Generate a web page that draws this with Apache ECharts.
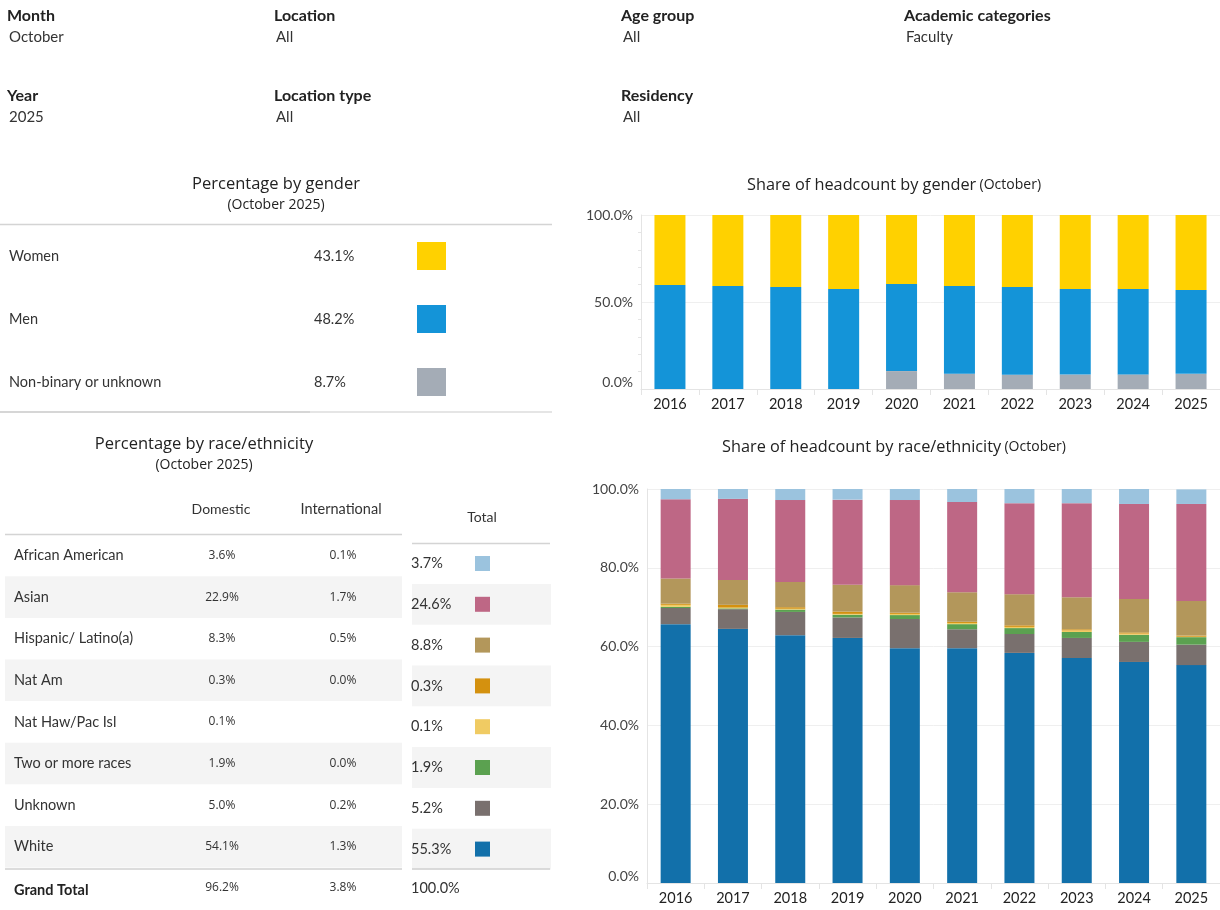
<!DOCTYPE html>
<html>
<head>
<meta charset="utf-8">
<script src="https://cdn.jsdelivr.net/npm/echarts@6/dist/echarts.min.js"></script>
<style>
html,body{margin:0;padding:0;background:#fff;}
#c{width:1220px;height:910px;}
</style>
</head>
<body>
<div id="c"></div>
<script>
// ---------------- DATA ----------------
const filterNames  = ['Month', 'Location', 'Age group', 'Academic categories', 'Year', 'Location type', 'Residency'];
const filterValues = ['October', 'All', 'All', 'Faculty', '2025', 'All', 'All'];

const years = ['2016','2017','2018','2019','2020','2021','2022','2023','2024','2025'];

const genderCats    = ['Women', 'Men', 'Non-binary or unknown'];
const genderPct2025 = ['43.1%', '48.2%', '8.7%'];
const genderWomen = [40.2, 40.8, 41.4, 42.5, 39.7, 40.8, 41.4, 42.5, 42.5, 43.1];
const genderMen   = [59.8, 59.2, 58.6, 57.5, 50.0, 50.4, 50.4, 49.2, 49.1, 48.2];
const genderNB    = [0, 0, 0, 0, 10.3, 8.8, 8.2, 8.3, 8.4, 8.7];

const raceCats = ['African American', 'Asian', 'Hispanic/ Latino(a)', 'Nat Am', 'Nat Haw/Pac Isl', 'Two or more races', 'Unknown', 'White'];
const domesticPct = ['3.6%', '22.9%', '8.3%', '0.3%', '0.1%', '1.9%', '5.0%', '54.1%'];
const intlPct     = ['0.1%', '1.7%', '0.5%', '0.0%', '', '0.0%', '0.2%', '1.3%'];
const totalPct    = ['3.7%', '24.6%', '8.8%', '0.3%', '0.1%', '1.9%', '5.2%', '55.3%'];
const grandTotalRow = ['Grand Total', '96.2%', '3.8%', '100.0%'];

const raceAfrAm    = [2.6, 2.5, 2.8, 2.7, 2.8, 3.3, 3.6, 3.6, 3.8, 3.7];
const raceAsian    = [20.1, 20.6, 20.8, 21.6, 21.6, 22.9, 23.1, 23.9, 24.1, 24.6];
const raceHispanic = [6.4, 6.3, 6.4, 6.8, 7.0, 7.5, 7.9, 8.1, 8.5, 8.8];
const raceNatAm    = [0.3, 0.7, 0.4, 0.6, 0.3, 0.3, 0.4, 0.3, 0.3, 0.3];
const raceNatHaw   = [0.5, 0.2, 0.2, 0.2, 0.3, 0.3, 0.3, 0.4, 0.3, 0.1];
const raceTwoPlus  = [0.3, 0.2, 0.6, 0.7, 1.0, 1.3, 1.5, 1.5, 1.8, 1.9];
const raceUnknown  = [4.1, 5.0, 5.9, 5.2, 7.4, 4.8, 4.8, 5.1, 5.1, 5.2];
const raceWhite    = [65.7, 64.5, 62.9, 62.2, 59.6, 59.6, 58.4, 57.1, 56.1, 55.3];

// ---------------- STYLE ----------------
const FONT = 'Lato';
const TFONT = 'Open Sans';
const TXT = '#333333';
const genderColors = ['#FFD100', '#1494D8', '#A4ACB6'];
const raceColors = ['#9BC3DE', '#BE6785', '#B3975B', '#D4910F', '#F0CB63', '#5BA150', '#79706E', '#1270AA'];

const g = [];
function txt(x, y, text, o) {
  o = o || {};
  g.push({type:'text', x:x, y:y, silent:true, style:Object.assign({
    text:text, fill:TXT, font:(o.weight||'normal') + ' ' + (o.size||14) + 'px ' + (o.family||FONT),
    textAlign:o.align||'left', textVerticalAlign:'middle'}, o.style||{})});
}
function rect(x, y, w, h, fill) {
  g.push({type:'rect', silent:true, shape:{x:x, y:y, width:w, height:h}, style:{fill:fill}});
}
function hline(x1, x2, y, color, w) {
  g.push({type:'line', silent:true, shape:{x1:x1, y1:y, x2:x2, y2:y}, style:{stroke:color, lineWidth:w||1}});
}

// filters
const fX = [7, 274, 621, 904, 7, 274, 621];
const fY = [16, 16, 16, 16, 96, 96, 96];
filterNames.forEach((n, i) => {
  txt(fX[i], fY[i], n, {weight:'bold', size:16, style:{fill:'#222'}});
  txt(fX[i] + 2, fY[i] + 21, filterValues[i], {size:15, style:{fill:'#333'}});
});

// gender table
txt(276, 184, 'Percentage by gender', {size:16.5, align:'center', family:TFONT, style:{fill:'#222'}});
txt(276, 205, '(October 2025)', {size:14, align:'center', family:TFONT, style:{fill:'#222'}});
hline(0, 552, 224.5, '#d4d4d4', 1.5);
genderCats.forEach((c, i) => {
  const y = 256 + i * 63;
  txt(9, y, c, {size:14.5});
  txt(314, y, genderPct2025[i], {size:14.5});
  rect(417, y - 14, 29, 28, genderColors[i]);
});
hline(0, 310, 412, '#c8c8c8', 1.5);
hline(310, 552, 412, '#dcdcdc', 1.5);

// race table
txt(204, 444, 'Percentage by race/ethnicity', {size:16.5, align:'center', family:TFONT, style:{fill:'#222'}});
txt(204, 465, '(October 2025)', {size:14, align:'center', family:TFONT, style:{fill:'#222'}});
txt(221, 509, 'Domestic', {size:14, align:'center'});
txt(341, 509, 'International', {size:14.5, align:'center'});
txt(482, 517, 'Total', {size:14, align:'center'});
hline(5, 402, 534.5, '#d4d4d4', 1.5);
hline(412, 550, 543.5, '#d4d4d4', 1.5);
raceCats.forEach((c, i) => {
  const y = 555.5 + i * 41.6;
  const ty = 563.5 + i * 40.8;
  if (i % 2 === 1) {
    rect(5, y - 20.8, 397, 41.6, '#f4f4f4');
    rect(412, ty - 20.4, 139, 40.8, '#f4f4f4');
  }
  txt(14, y, c, {size:14.5});
  txt(222, y, domesticPct[i], {size:12, align:'center', family:TFONT});
  txt(343, y, intlPct[i], {size:12, align:'center', family:TFONT});
  txt(411, ty, totalPct[i], {size:14.5});
  rect(475, ty - 7.5, 15, 15, raceColors[i]);
});
hline(5, 402, 869, '#d0d0d0', 1.5);
hline(412, 550, 869, '#d0d0d0', 1.5);
txt(14, 890, grandTotalRow[0], {size:14.5, weight:'bold', style:{fill:'#222'}});
txt(222, 888, grandTotalRow[1], {size:12, align:'center', family:TFONT});
txt(343, 888, grandTotalRow[2], {size:12, align:'center', family:TFONT});
txt(411, 888, grandTotalRow[3], {size:14.5});

// chart titles
function title(y, main) {
  g.push({type:'text', x:894, y:y, silent:true, style:{
    text:'{a|' + main + '} {b|(October)}', textAlign:'center', textVerticalAlign:'middle',
    rich:{a:{fontFamily:TFONT, fontSize:16.3, fill:'#222', color:'#222'},
          b:{fontFamily:TFONT, fontSize:14, fill:'#222', color:'#222'}}}});
}
title(185, 'Share of headcount by gender');
title(447, 'Share of headcount by race/ethnicity');

// ---------------- CHART ----------------
const axisColor = '#e4e4e4';
function yAxis(gridIndex, interval) {
  return {
    type:'value', gridIndex:gridIndex, min:0, max:100, interval:interval,
    axisLine:{show:true, lineStyle:{color:axisColor}},
    axisTick:{show:false},
    minorTick:{show:gridIndex === 0, splitNumber:5, length:3, lineStyle:{color:axisColor}},
    splitLine:{show:true, lineStyle:{color:'#efefef', width:1}},
    axisLabel:{fontFamily:FONT, fontSize:14, color:'#444', margin:8,
      formatter:v => v.toFixed(1) + '%', verticalAlignMinLabel:'bottom'}
  };
}
function xAxis(gridIndex) {
  return {
    type:'category', gridIndex:gridIndex, data:years,
    axisLine:{show:true, lineStyle:{color:axisColor}},
    axisTick:{show:true, alignWithLabel:false, length:6, lineStyle:{color:axisColor}},
    axisLabel:{fontFamily:FONT, fontSize:14.5, color:'#222', margin:8}
  };
}

const series = [];
[[genderNB, 2], [genderMen, 1], [genderWomen, 0]].forEach(([d, ci]) => {
  series.push({type:'bar', name:genderCats[ci], xAxisIndex:0, yAxisIndex:0, stack:'g',
    data:d, barWidth:31, itemStyle:{color:genderColors[ci]}, silent:true});
});
const raceSeriesData = [raceAfrAm, raceAsian, raceHispanic, raceNatAm, raceNatHaw, raceTwoPlus, raceUnknown, raceWhite];
for (let i = raceSeriesData.length - 1; i >= 0; i--) {
  series.push({type:'bar', name:raceCats[i], xAxisIndex:1, yAxisIndex:1, stack:'r',
    data:raceSeriesData[i], barWidth:30, itemStyle:{color:raceColors[i]}, silent:true});
}

const chart = echarts.init(document.getElementById('c'), null, {renderer:'canvas'});
chart.setOption({
  animation:false,
  textStyle:{fontFamily:FONT},
  grid:[
    {left:641, right:-4, top:215, height:174},
    {left:647, right:-6, top:489, height:394}
  ],
  xAxis:[xAxis(0), xAxis(1)],
  yAxis:[yAxis(0, 50), yAxis(1, 20)],
  series:series,
  graphic:{elements:g}
});
</script>
</body>
</html>
